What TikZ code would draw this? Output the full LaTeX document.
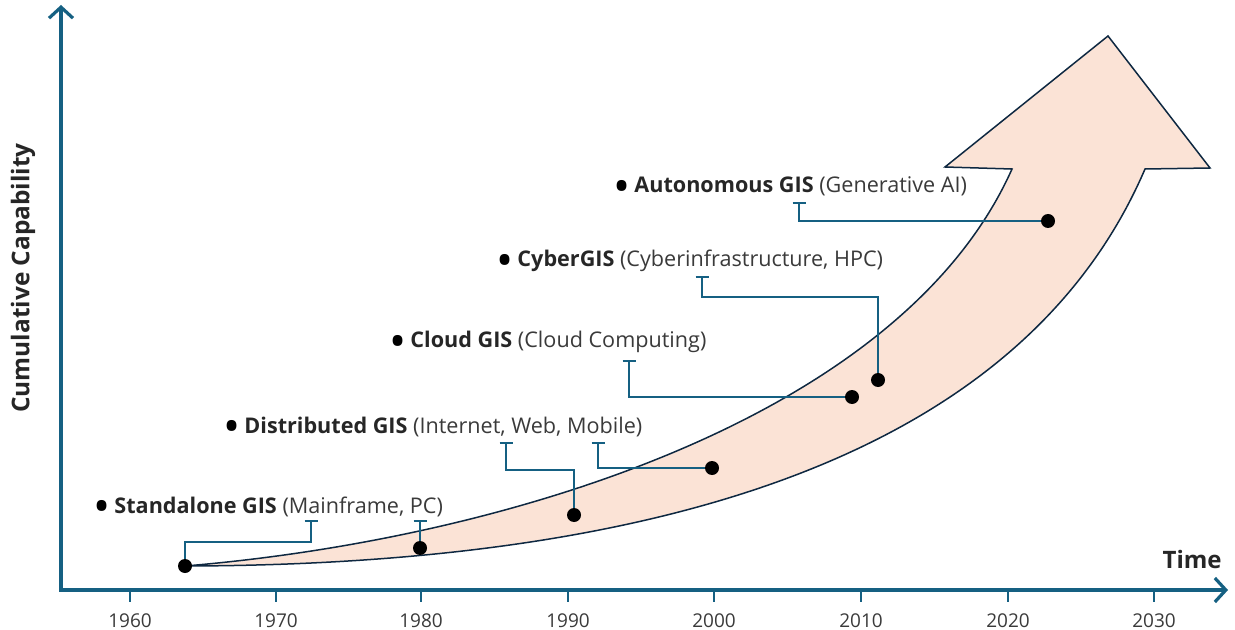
\documentclass[tikz,border=0pt]{standalone}
\usepackage{fontspec}
\setmainfont{Open Sans}
\usetikzlibrary{arrows.meta}

\definecolor{axisblue}{HTML}{156082}
\definecolor{peach}{HTML}{FBE3D6}
\definecolor{edgenavy}{HTML}{0E2841}
\definecolor{textgray}{HTML}{3A3A3A}
\definecolor{namedark}{HTML}{262626}

\newcommand{\eraname}[1]{{\color{namedark}\bfseries #1}}
\newcommand{\erabullet}{{\color{black}\raisebox{-4.7pt}{\scalebox{2.1}{•}}}\hspace{2pt}}

\begin{document}
\begin{tikzpicture}[x = 0.5pt, y = -0.5pt,
    milestone/.style = {fill, circle, inner sep = 0, minimum size = 7pt},
    link/.style = {axisblue, line width = 1pt, -{Bar[width = 6.5pt]}},
    era/.style = {anchor = base west, inner sep = 0, text = textgray, font = \fontsize{10.8}{13}\selectfont},
    yearlabel/.style = {below = 2pt, text = textgray, font = \fontsize{9.5}{11}\selectfont}]
    \useasboundingbox (0, 0) rectangle (1235, 630);

    % growth arrow
    \draw [edgenavy, fill = peach, line width = 0.75pt]
      (185, 566) .. controls (500, 540) and (900, 420) .. (1012, 169)
      -- (945, 167) -- (1108, 36) -- (1210, 168) -- (1145, 169)
      .. controls (1020, 460) and (650, 565) .. (185, 566) -- cycle;

    % axes
    \draw [axisblue, line width = 1.6pt, {Straight Barb[length = 5.5pt, width = 12pt]}-{Straight Barb[length = 5.5pt, width = 12pt]}]
      (61, 5) -- (61, 590) -- (1228, 590);

    \draw [axisblue, line width = 1pt] (130, 590) -- (130, 602) node [yearlabel] (y1960) {1960};
    \draw [axisblue, line width = 1pt] (276, 590) -- (276, 602) node [yearlabel] (y1970) {1970};
    \draw [axisblue, line width = 1pt] (421, 590) -- (421, 602) node [yearlabel] (y1980) {1980};
    \draw [axisblue, line width = 1pt] (568, 590) -- (568, 602) node [yearlabel] (y1990) {1990};
    \draw [axisblue, line width = 1pt] (714, 590) -- (714, 602) node [yearlabel] (y2000) {2000};
    \draw [axisblue, line width = 1pt] (861, 590) -- (861, 602) node [yearlabel] (y2010) {2010};
    \draw [axisblue, line width = 1pt] (1008, 590) -- (1008, 602) node [yearlabel] (y2020) {2020};
    \draw [axisblue, line width = 1pt] (1154, 590) -- (1154, 602) node [yearlabel] (y2030) {2030};

    \node [anchor = base east, inner sep = 0, text = namedark, font = \bfseries\fontsize{12}{14}\selectfont] (time) at (1222, 568) {Time};
    \node [rotate = 90, text = namedark, font = \bfseries\fontsize{12.2}{14}\selectfont] (capability) at (23, 278) {Cumulative Capability};

    % eras
    \node [era] (standalone) at (93, 513) {\erabullet\eraname{Standalone GIS} (Mainframe, PC)};
    \node [era] (distributed) at (223, 433) {\erabullet\eraname{Distributed GIS} (Internet, Web, Mobile)};
    \node [era] (cloud) at (389, 348) {\erabullet\eraname{Cloud GIS} (Cloud Computing)};
    \node [era] (cyber) at (496, 267) {\erabullet\eraname{CyberGIS} (Cyberinfrastructure, HPC)};
    \node [era] (autonomous) at (613, 193) {\erabullet\eraname{Autonomous GIS} (Generative AI)};

    % milestones on the arrow
    \node [milestone] (d1964) at (185, 566) {};
    \node [milestone] (d1980) at (420, 548) {};
    \node [milestone] (d1990) at (574, 515) {};
    \node [milestone] (d2000) at (712, 468) {};
    \node [milestone] (d2009) at (852, 397) {};
    \node [milestone] (d2011) at (878, 380) {};
    \node [milestone] (d2023) at (1048, 221) {};

    \coordinate (t1964) at (311, 520);
    \coordinate (t1980) at (420, 520);
    \coordinate (t1990) at (506, 442);
    \coordinate (t2000) at (598, 442);
    \coordinate (t2009) at (629, 360);
    \coordinate (t2011) at (702, 276);
    \coordinate (t2023) at (799, 202);

    \draw [link] (d1964) -- ++(0, -24) -| (t1964);
    \draw [link] (d1980) -- (t1980);
    \draw [link] (d1990) -- ++(0, -45) -| (t1990);
    \draw [link] (d2000) -| (t2000);
    \draw [link] (d2009) -| (t2009);
    \draw [link] (d2011) -- ++(0, -83) -| (t2011);
    \draw [link] (d2023) -| (t2023);
  \end{tikzpicture}
\end{document}
